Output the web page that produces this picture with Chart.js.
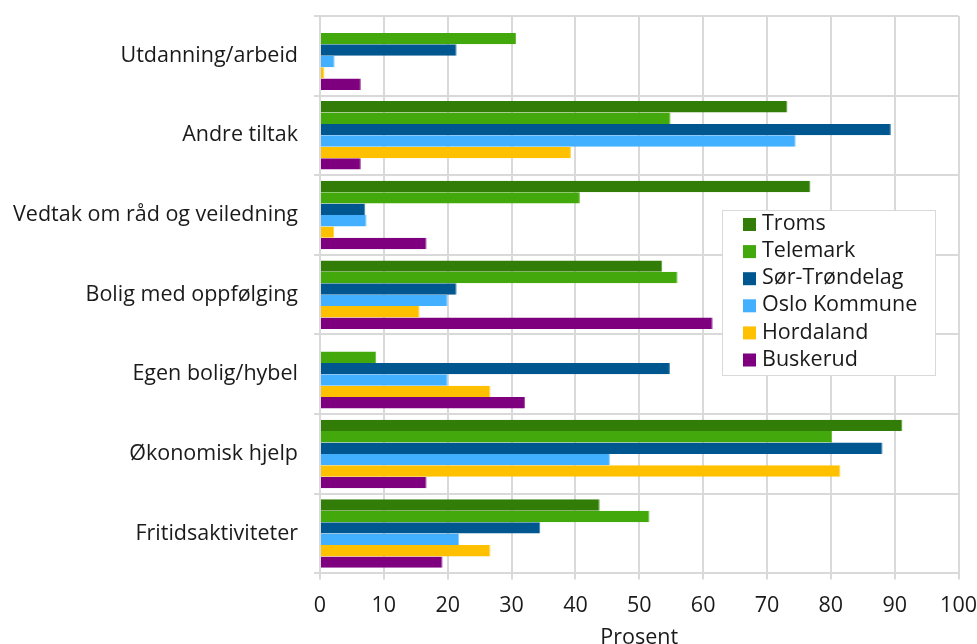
<!DOCTYPE html>
<html>
<head>
<meta charset="utf-8">
<script src="https://cdn.jsdelivr.net/npm/chart.js@4"></script>
<style>
  html, body { margin: 0; padding: 0; background: #fff; overflow: hidden; }
  #wrap { width: 991px; height: 661px; position: absolute; left: 0; top: -13px; }
</style>
</head>
<body>
<div id="wrap"><canvas id="myChart"></canvas></div>
<script>
const kategorier = ['Utdanning/arbeid', 'Andre tiltak', 'Vedtak om råd og veiledning', 'Bolig med oppfølging', 'Egen bolig/hybel', 'Økonomisk hjelp', 'Fritidsaktiviteter'];
const fylker = ['Troms', 'Telemark', 'Sør-Trøndelag', 'Oslo Kommune', 'Hordaland', 'Buskerud'];
const troms = [0, 73.2, 76.8, 53.6, 0, 91.2, 43.8];
const telemark = [30.7, 54.9, 40.7, 56.0, 8.8, 80.2, 51.6];
const sorTrondelag = [21.4, 89.4, 7.1, 21.4, 54.8, 88.1, 34.5];
const osloKommune = [2.3, 74.5, 7.3, 20.0, 20.0, 45.4, 21.8];
const hordaland = [0.7, 39.3, 2.2, 15.6, 26.7, 81.5, 26.7];
const buskerud = [6.4, 6.4, 16.7, 61.5, 32.1, 16.7, 19.2];
const farger = ['#317d07', '#42a80b', '#00568f', '#42b0ff', '#ffc000', '#7f007f'];
const kanter = ['#4f9a2a', '#66bb33', '#3a7fb0', '#7fcbff', '#ffd54d', '#a040a0'];

const serier = [troms, telemark, sorTrondelag, osloKommune, hordaland, buskerud];
const skrift = { family: 'Open Sans', size: 21.5 };

// legend drawn inside the plot, like the original (page coords, canvas is shifted 13px up)
const boksLegende = {
    id: 'boksLegende',
    afterDraw(chart) {
        const ctx = chart.ctx;
        const x = 722, y = 210 + 13, w = 213, h = 165;
        ctx.save();
        ctx.fillStyle = '#fff';
        ctx.fillRect(x, y, w, h);
        ctx.strokeStyle = '#d9d9d9';
        ctx.lineWidth = 1;
        ctx.strokeRect(x + 0.5, y + 0.5, w, h);
        ctx.font = '21.5px "Open Sans"';
        ctx.textBaseline = 'middle';
        chart.data.datasets.forEach((ds, i) => {
            const cy = y + 14 + i * 27.1;
            ctx.fillStyle = ds.backgroundColor;
            ctx.fillRect(x + 21, cy - 6, 13, 13);
            ctx.fillStyle = '#1a1a1a';
            ctx.fillText(ds.label, x + 40, cy);
        });
        ctx.restore();
    }
};

new Chart(document.getElementById('myChart'), {
    type: 'bar',
    data: {
        labels: kategorier,
        datasets: fylker.map((navn, i) => ({
            label: navn,
            data: serier[i],
            backgroundColor: farger[i],
            borderColor: kanter[i],
            borderWidth: { top: 0, bottom: 0, left: 0, right: 1 },
            categoryPercentage: 0.86,
            barPercentage: 1.0
        }))
    },
    options: {
        indexAxis: 'y',
        responsive: true,
        maintainAspectRatio: false,
        animation: false,
        layout: { padding: { top: -10, right: -5, left: -3, bottom: -3 } },
        plugins: {
            legend: { display: false },
            tooltip: { enabled: false }
        },
        scales: {
            x: {
                min: 0,
                max: 100,
                ticks: {
                    stepSize: 10,
                    color: '#1a1a1a',
                    font: skrift,
                    padding: 14
                },
                grid: { color: '#d9d9d9', lineWidth: 2, tickLength: 6 },
                border: { display: false },
                title: {
                    display: true,
                    text: 'Prosent',
                    color: '#1a1a1a',
                    font: skrift,
                    padding: { top: -8, bottom: 0 }
                }
            },
            y: {
                ticks: {
                    color: '#1a1a1a',
                    font: skrift,
                    padding: 16
                },
                grid: { color: '#d9d9d9', lineWidth: 2, tickLength: 6, offset: true },
                border: { color: '#d9d9d9', width: 2 }
            }
        }
    },
    plugins: [boksLegende]
});
</script>
</body>
</html>
